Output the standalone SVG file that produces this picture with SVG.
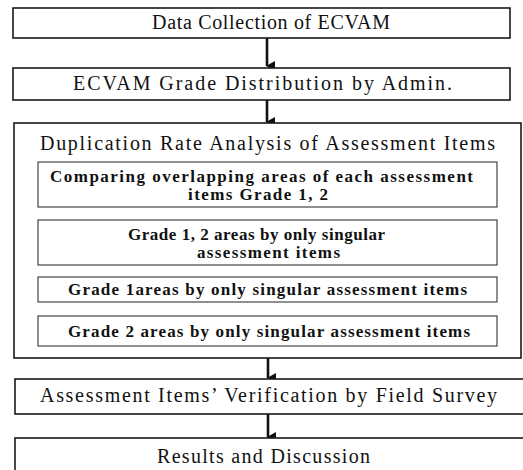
<svg xmlns="http://www.w3.org/2000/svg" width="523" height="470" viewBox="0 0 523 470">
<defs>
<marker id="ah" markerWidth="10" markerHeight="9" refX="5" refY="8" orient="auto" markerUnits="userSpaceOnUse" viewBox="0 0 10 9">
<path d="M0,0 L10,0 L5,9 Z" fill="#111"/>
</marker>
</defs>
<style>
.box{fill:#fff;stroke:#1a1a1a;stroke-width:1.6}
.inner{fill:#fff;stroke:#333;stroke-width:1.1}
.t{font-size:20px;fill:#111}
.ti{font-size:17px;font-weight:bold;fill:#111}
.arr{stroke:#111;stroke-width:2.6;fill:none}
.ln{stroke:#222;stroke-width:1.2;fill:none}
</style>
<rect width="523" height="470" fill="#fff"/>
<g id="connectors">
<line class="arr" x1="267" y1="38" x2="267" y2="66" marker-end="url(#ah)"/>
<line class="arr" x1="267" y1="100" x2="267" y2="122" marker-end="url(#ah)"/>
<line class="ln" x1="268" y1="207" x2="268" y2="220"/>
<line class="ln" x1="268" y1="265" x2="268" y2="277"/>
<line class="ln" x1="268" y1="302" x2="268" y2="316"/>
<line class="arr" x1="268" y1="358" x2="268" y2="378" marker-end="url(#ah)"/>
<line class="arr" x1="268" y1="414" x2="268" y2="437" marker-end="url(#ah)"/>
</g>
<g font-family="Liberation Serif, DejaVu Serif, serif">
<g id="n1">
<rect class="box" x="13" y="8" width="497" height="30"/>
<text class="t" x="152" y="29" textLength="238" lengthAdjust="spacing">Data Collection of ECVAM</text>
</g>
<g id="n2">
<rect class="box" x="13" y="68" width="497" height="32"/>
<text class="t" x="73" y="90" textLength="379" lengthAdjust="spacing">ECVAM Grade Distribution by Admin.</text>
</g>
<g id="n3">
<rect class="box" x="14" y="123" width="507" height="235"/>
<text class="t" x="40" y="150" textLength="455" lengthAdjust="spacing">Duplication Rate Analysis of Assessment Items</text>
</g>
<g id="n3a">
<rect class="inner" x="38" y="162" width="459" height="45"/>
<text class="ti" x="50" y="182" textLength="423" lengthAdjust="spacing">Comparing overlapping areas of each assessment</text>
<text class="ti" x="188" y="200" textLength="140" lengthAdjust="spacing">items Grade 1, 2</text>
</g>
<g id="n3b">
<rect class="inner" x="38" y="220" width="459" height="45"/>
<text class="ti" x="128" y="240" textLength="257" lengthAdjust="spacing">Grade 1, 2 areas by only singular</text>
<text class="ti" x="197" y="258" textLength="143" lengthAdjust="spacing">assessment items</text>
</g>
<g id="n3c">
<rect class="inner" x="38" y="277" width="459" height="25"/>
<text class="ti" x="68" y="295" textLength="399" lengthAdjust="spacing">Grade 1areas by only singular assessment items</text>
</g>
<g id="n3d">
<rect class="inner" x="38" y="316" width="459" height="30"/>
<text class="ti" x="68" y="337" textLength="402" lengthAdjust="spacing">Grade 2 areas by only singular assessment items</text>
</g>
<g id="n4">
<rect class="box" x="15" y="379" width="515" height="35"/>
<text class="t" x="40" y="402" textLength="457" lengthAdjust="spacing">Assessment Items’ Verification by Field Survey</text>
</g>
<g id="n5">
<rect class="box" x="15" y="438" width="515" height="40"/>
<text class="t" x="157" y="463" textLength="213" lengthAdjust="spacing">Results and Discussion</text>
</g>
</g>
</svg>
